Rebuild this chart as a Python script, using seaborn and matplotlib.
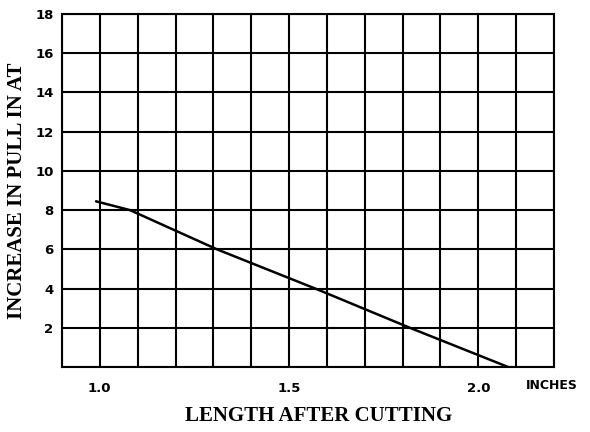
import numpy as np
import pandas as pd
import matplotlib.pyplot as plt
import seaborn as sns

# Data
length_in = [0.99, 1.08, 1.31, 1.57, 1.82, 2.08]
pull_at = [8.45, 8.0, 6.0, 4.0, 2.0, 0.0]

x_tick_labels = {1.0: "1.0", 1.5: "1.5", 2.0: "2.0"}
y_ticks = [2, 4, 6, 8, 10, 12, 14, 16, 18]

df = pd.DataFrame({"length": length_in, "pull": pull_at})

sns.set_style("white")
plt.rcParams["text.color"] = "black"
plt.rcParams["xtick.color"] = "black"
plt.rcParams["ytick.color"] = "black"
plt.rcParams["axes.labelcolor"] = "black"
plt.rcParams["font.family"] = ["DejaVu Sans"]

fig = plt.figure(figsize=(5.9, 4.32), dpi=100)
ax = fig.add_axes([0.105, 0.150, 0.834, 0.818])

sns.lineplot(data=df, x="length", y="pull", color="black", linewidth=1.8, ax=ax)

ax.set_xlim(0.9, 2.2)
ax.set_ylim(0, 18)

# grid lines every 0.1 inch and every 2 AT, only some labelled
xt = np.round(np.arange(0.9, 2.201, 0.1), 2)
ax.set_xticks(xt)
ax.set_xticklabels([x_tick_labels.get(round(v, 1), "") for v in xt],
                   fontsize=9.5, fontweight="bold")
yt = np.arange(0, 19, 2)
ax.set_yticks(yt)
ax.set_yticklabels([str(v) if v in y_ticks else "" for v in yt],
                   fontsize=9.5, fontweight="bold")
ax.grid(True, color="black", linewidth=1.5)
ax.set_axisbelow(True)
ax.tick_params(which="both", length=0, pad=6)
ax.tick_params(axis="x", pad=11)

for s in ax.spines.values():
    s.set_color("black")
    s.set_linewidth(1.5)

ax.set_xlabel("LENGTH AFTER CUTTING", family="Liberation Serif", fontweight="bold",
              fontsize=15)
ax.xaxis.set_label_coords(0.522, -0.11)
ax.set_ylabel("INCREASE IN PULL IN AT", family="Liberation Serif", fontweight="bold",
              fontsize=15, labelpad=6)

ax.text(2.195, -0.95, "INCHES", fontsize=9, fontweight="bold", ha="center", va="center",
        clip_on=False)

fig.savefig("out.png", dpi=100)
